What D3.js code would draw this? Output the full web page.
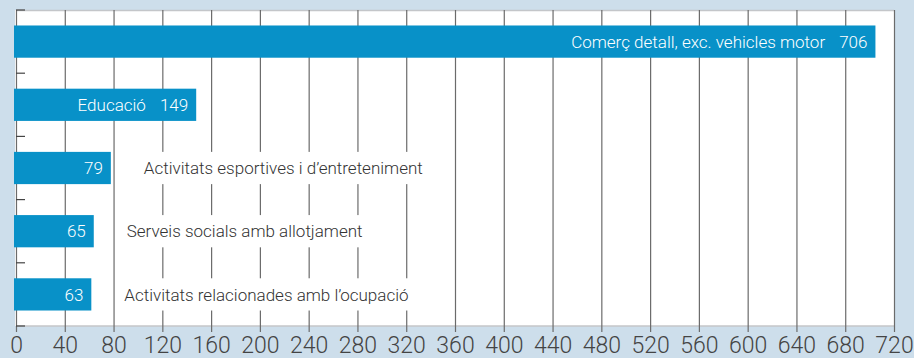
<!DOCTYPE html>
<html>
<head>
<meta charset="utf-8">
<script src="https://cdn.jsdelivr.net/npm/d3@7"></script>
<style>
  html, body { margin: 0; padding: 0; background: #cddeeb; }
  svg { display: block; font-family: Roboto, "Liberation Sans", Arial, sans-serif; font-weight: 300; }
</style>
</head>
<body>
<div id="chart"></div>
<script>
  // data
  const categories = [
    "Comerç detall, exc. vehicles motor",
    "Educació",
    "Activitats esportives i d\u2019entreteniment",
    "Serveis socials amb allotjament",
    "Activitats relacionades amb l\u2019ocupació"
  ];
  const values = [706, 149, 79, 65, 63];
  const labelInside = [true, true, false, false, false];
  const tickValues = d3.range(0, 721, 40);

  const width = 914, height = 358;
  const plot = { left: 16, right: 894, top: 10, bottom: 326 };

  const svg = d3.select("#chart").append("svg")
      .attr("width", width)
      .attr("height", height);

  svg.append("rect")
      .attr("x", plot.left - 1)
      .attr("y", plot.top)
      .attr("width", plot.right - plot.left + 1)
      .attr("height", plot.bottom - plot.top)
      .attr("fill", "#fff");

  const x = d3.scaleLinear().domain([0, 720]).range([plot.left, plot.right]);
  const y = d3.scaleBand()
      .domain(categories)
      .range([plot.top, plot.bottom])
      .paddingInner(0.49)
      .paddingOuter(0.245);

  // frame lines
  svg.append("line")
      .attr("x1", plot.left).attr("x2", plot.right)
      .attr("y1", plot.top + 0.5).attr("y2", plot.top + 0.5)
      .attr("stroke", "#c4c6c9").attr("stroke-width", 1.5);
  svg.append("line")
      .attr("x1", plot.left).attr("x2", plot.right)
      .attr("y1", plot.bottom).attr("y2", plot.bottom)
      .attr("stroke", "#c4c6c9").attr("stroke-width", 1.5);

  // vertical grid + bottom labels
  const xAxis = svg.append("g")
      .attr("transform", `translate(0,${plot.bottom + 6})`)
      .call(d3.axisBottom(x)
          .tickValues(tickValues)
          .tickSize(-(plot.bottom + 6 - plot.top))
          .tickPadding(5));
  xAxis.select(".domain").remove();
  xAxis.selectAll(".tick line")
      .attr("stroke", "#6b6b6b")
      .attr("stroke-width", 1.2);
  xAxis.selectAll(".tick text")
      .attr("fill", "#444")
      .style("font-size", "23px")
      .style("font-weight", 300)
      .style("font-family", "Roboto, 'Liberation Sans', Arial, sans-serif");

  // left axis ticks at band edges
  const edges = d3.range(categories.length + 1).map(i => plot.top + (plot.bottom - plot.top) * i / categories.length);
  svg.selectAll("line.ytick")
      .data(edges)
      .join("line")
      .attr("class", "ytick")
      .attr("x1", plot.left).attr("x2", plot.left + 9)
      .attr("y1", d => d).attr("y2", d => d)
      .attr("stroke", "#444").attr("stroke-width", 1.2);

  const bars = svg.append("g");
  const rows = bars.selectAll("g.row")
      .data(categories.map((c, i) => ({ name: c, value: values[i], inside: labelInside[i] })))
      .join("g")
      .attr("class", "row");

  // white backing for outside labels (breaks the grid lines)
  const outBg = rows.filter(d => !d.inside).append("rect")
      .attr("fill", "#fff");

  const barEnd = d => x(d.value) - 1.5;

  rows.append("rect")
      .attr("x", x(0) - 2)
      .attr("y", d => y(d.name))
      .attr("width", d => barEnd(d) - (x(0) - 2))
      .attr("height", y.bandwidth())
      .attr("fill", "#0891c8");

  const valText = rows.append("text")
      .attr("x", d => barEnd(d) - 8)
      .attr("y", d => y(d.name) + y.bandwidth() / 2)
      .attr("dy", "0.36em")
      .attr("text-anchor", "end")
      .attr("fill", "#fff")
      .style("font-size", "17px")
      .text(d => d.value);

  rows.append("text")
      .attr("x", function (d, i) {
          if (d.inside) {
              const w = valText.nodes()[i].getComputedTextLength();
              return barEnd(d) - 8 - w - 14;
          }
          return barEnd(d) + 33;
      })
      .attr("y", d => y(d.name) + y.bandwidth() / 2)
      .attr("dy", "0.36em")
      .attr("text-anchor", d => d.inside ? "end" : "start")
      .attr("fill", d => d.inside ? "#fff" : "#333")
      .style("font-size", "17px")
      .text(d => d.name)
      .each(function (d) {
          if (!d.inside) {
              const b = this.getBBox();
              d.bg = { x: b.x - 8, w: b.width + 16 };
          }
      });

  outBg
      .attr("x", d => d.bg.x)
      .attr("y", d => y(d.name))
      .attr("width", d => d.bg.w)
      .attr("height", y.bandwidth());
</script>
</body>
</html>
